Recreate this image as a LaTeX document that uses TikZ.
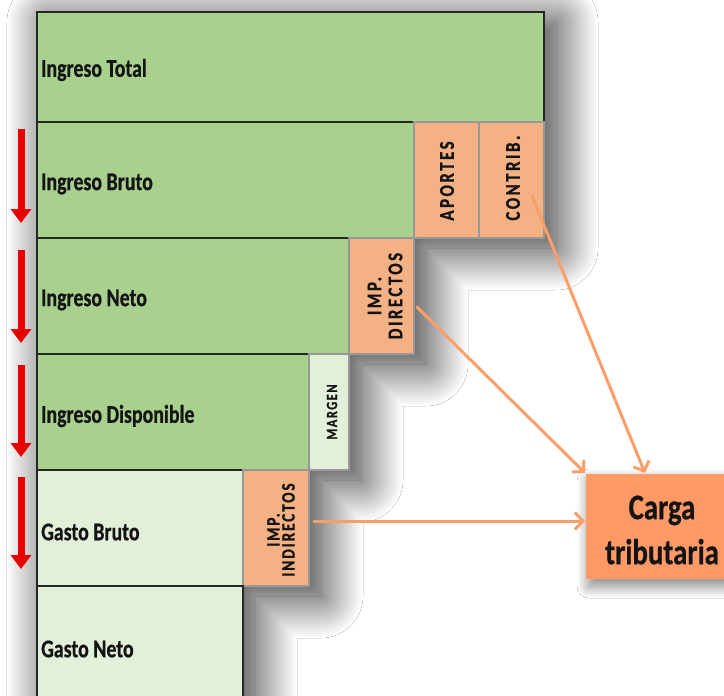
\documentclass[tikz,border=0pt]{standalone}
\usepackage{fontspec}
\setmainfont{Carlito}
\newfontfamily\lblfont{Carlito}[FakeStretch=0.78,FakeBold=0.6]
\newfontfamily\rotfont{Carlito}[FakeStretch=0.8,LetterSpace=12,FakeBold=0.8]
\newfontfamily\rotfontb{Carlito}[FakeStretch=0.8,LetterSpace=10,FakeBold=0.8]
\newfontfamily\cargafont{Carlito}[FakeStretch=0.8,FakeBold=0.6]
\usetikzlibrary{arrows.meta,shadows.blur}
\definecolor{cgreen}{HTML}{A9D18E}
\definecolor{clight}{HTML}{E2F0D9}
\definecolor{csalmon}{HTML}{F4B183}
\definecolor{ccarga}{HTML}{FF9966}
\definecolor{corange}{HTML}{FB9F6A}
\definecolor{cred}{HTML}{E80000}
\begin{document}
\begin{tikzpicture}[x=1pt,y=-1pt,
  box/.style={draw=black!85, line width=1.7pt, inner sep=0pt, outer sep=0pt},
  gbox/.style={box, fill=cgreen},
  lgbox/.style={box, fill=clight},
  obox/.style={box, fill=csalmon, draw=black!40, line width=1.1pt},
  mbox/.style={box, fill=clight, draw=black!40, line width=1.1pt},
  lbl/.style={anchor=west, inner sep=0pt, font=\lblfont\bfseries\fontsize{25.5}{28}\selectfont, text=black!92},
  rot/.style={rotate=90, align=center, inner sep=0pt, text=black!92},
  redarr/.style={draw=cred, line width=7pt, -{Triangle[length=14pt,width=20pt]}},
  conn/.style={draw=corange, line width=3pt, line cap=round, -{Straight Barb[length=8pt,width=17pt,line width=3pt]}},
]
\useasboundingbox (0,0) rectangle (724,696);
\fill[white] (0,0) rectangle (724,696);
% shadow of staircase
\path[fill=white, blur shadow={shadow xshift=12pt, shadow yshift=-10pt, shadow blur radius=42pt, shadow blur steps=50, shadow opacity=85}]
  (37,12) -- (544,12) -- (544,238) -- (414,238) -- (414,354) -- (349,354) -- (349,470)
  -- (309,470) -- (309,586) -- (243,586) -- (243,720) -- (37,720) -- cycle;
% boxes
\node[gbox, minimum width=507pt, minimum height=110pt] (tot) at (290.5,67) {};
\node[gbox, minimum width=377pt, minimum height=116pt] (bruto) at (225.5,180) {};
\node[obox, minimum width=65pt, minimum height=116pt] (apor) at (446.5,180) {};
\node[obox, minimum width=65pt, minimum height=116pt] (contrib) at (511.5,180) {};
\node[gbox, minimum width=312pt, minimum height=116pt] (neto) at (193,296) {};
\node[obox, minimum width=65pt, minimum height=116pt] (impd) at (381.5,296) {};
\node[gbox, minimum width=272pt, minimum height=116pt] (disp) at (173,412) {};
\node[mbox, minimum width=40pt, minimum height=116pt] (marg) at (329,412) {};
\node[lgbox, minimum width=206pt, minimum height=116pt] (gbruto) at (140,528) {};
\node[obox, minimum width=66pt, minimum height=116pt] (impi) at (276,528) {};
\node[lgbox, minimum width=206pt, minimum height=124pt] (gneto) at (140,648) {};
% main labels
\node[lbl] (ltot) at ([xshift=4pt,yshift=-3pt]tot.west) {Ingreso Total};
\node[lbl] (lbruto) at ([xshift=4pt,yshift=-4pt]bruto.west) {Ingreso Bruto};
\node[lbl] (lneto) at ([xshift=4pt,yshift=-4pt]neto.west) {Ingreso Neto};
\node[lbl] (ldisp) at ([xshift=4pt,yshift=-4pt]disp.west) {Ingreso Disponible};
\node[lbl] (lgbruto) at ([xshift=4pt,yshift=-4pt]gbruto.west) {Gasto Bruto};
\node[lbl] (lgneto) at (41,649) {Gasto Neto};
% rotated labels
\node[rot, font=\rotfont\bfseries\fontsize{21}{21}\selectfont] (tapor) at (447,181) {APORTES};
\node[rot, font=\rotfont\bfseries\fontsize{21}{21}\selectfont] (tcontrib) at (513,178) {CONTRIB.};
\node[rot, font=\rotfont\bfseries\fontsize{21}{21}\selectfont] (timpd) at (385,296) {IMP.\\DIRECTOS};
\node[rot, font=\rotfontb\bfseries\fontsize{15.5}{15.5}\selectfont] (tmarg) at (332,412) {MARGEN};
\node[rot, font=\rotfontb\bfseries\fontsize{19}{15}\selectfont] (timpi) at (281,530) {IMP.\\INDIRECTOS};
% carga tributaria
\node[fill=ccarga, inner sep=0pt, outer sep=0pt, minimum width=152pt, minimum height=105pt,
  blur shadow={shadow xshift=3pt, shadow yshift=-7pt, shadow blur radius=12pt, shadow blur steps=30, shadow opacity=50}] (carga) at (662,526.5) {};
\node[align=center, inner sep=0pt, font=\cargafont\bfseries\fontsize{36}{45}\selectfont, text=black!92] (tcarga) at (662,530) {Carga\\tributaria};
% red arrows
\coordinate (r1a) at (21,129); \coordinate (r1b) at (21,223);
\coordinate (r2a) at (21,250); \coordinate (r2b) at (21,343);
\coordinate (r3a) at (21,365); \coordinate (r3b) at (21,457);
\coordinate (r4a) at (21,477); \coordinate (r4b) at (21,569);
\draw[redarr] (r1a) -- (r1b);
\draw[redarr] (r2a) -- (r2b);
\draw[redarr] (r3a) -- (r3b);
\draw[redarr] (r4a) -- (r4b);
% connectors
\coordinate (c1) at (532,196);
\coordinate (c2) at (417,307);
\coordinate (c3) at (314,521);
\coordinate (c1e) at (645,473);
\draw[conn] (c1) -- (c1e);
\draw[conn] (c2) -- ([xshift=-1pt,yshift=1pt]carga.north west);
\draw[conn] (c3) -- ([xshift=-1pt]carga.west |- c3);
\end{tikzpicture}
\end{document}
